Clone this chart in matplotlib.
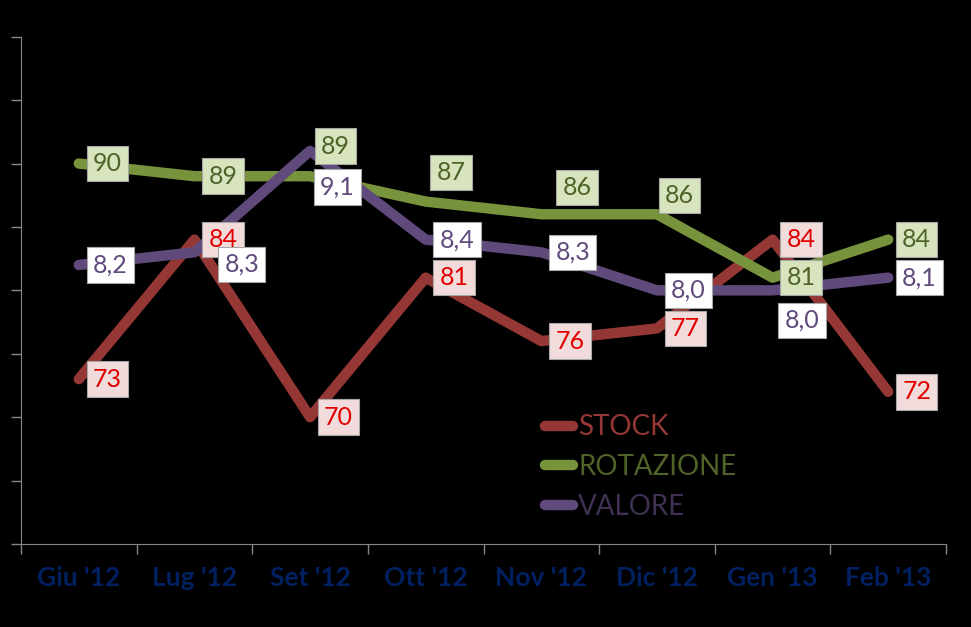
import matplotlib
matplotlib.use("Agg")
import matplotlib.pyplot as plt
from matplotlib.lines import Line2D

plt.rcParams['font.family'] = ['Lato', 'DejaVu Sans']

months = ["Giu '12", "Lug '12", "Set '12", "Ott '12", "Nov '12", "Dic '12", "Gen '13", "Feb '13"]
stock = [73, 84, 70, 81, 76, 77, 84, 72]
rotazione = [90, 89, 89, 87, 86, 86, 81, 84]
valore = [8.2, 8.3, 9.1, 8.4, 8.3, 8.0, 8.0, 8.1]

# colours (excel-ish)
c_stock, c_rot, c_val = "#953735", "#77933C", "#604A7B"
axis_col = "#868686"
tick_col = "#002060"

# extra shift of some labels, in pixels (x right, y down)
rot_shift = {2: (-3, -30), 3: (-3, -29), 4: (7, -27), 5: (-6, -19)}
val_shift = {1: (16, 12), 2: (-4, 36), 6: (-2, 30)}

fig = plt.figure(figsize=(9.71, 6.27), dpi=100, facecolor="black")
ax = fig.add_axes([21/971, 1-544/627, 925/971, (544-36.7)/627])
ax.set_facecolor("black")
ax2 = ax.twinx()

x = list(range(len(months)))
lw = 7.5
ax.plot(x, stock, color=c_stock, lw=lw, solid_capstyle="round", solid_joinstyle="round", zorder=2)
ax.plot(x, rotazione, color=c_rot, lw=lw, solid_capstyle="round", solid_joinstyle="round", zorder=3)
ax2.plot(x, valore, color=c_val, lw=lw, solid_capstyle="round", solid_joinstyle="round", zorder=2)

ax.set_xlim(-0.5, len(months) - 0.5)
ax.set_ylim(60, 100)
ax2.set_ylim(6, 10)
ax.set_yticks(range(60, 101, 5))
ax.set_yticklabels([])
ax.tick_params(axis="y", length=7, width=1, color=axis_col)
ax2.set_yticks([])
ax.set_xticks(x)
ax.set_xticklabels(months, fontsize=19, fontweight="bold", color=tick_col)
ax.set_xticks([i - 0.5 for i in range(len(months) + 1)], minor=True)
ax.tick_params(axis="x", which="major", length=0, pad=16)
ax.tick_params(axis="x", which="minor", length=7, width=1, color=axis_col)

for a in (ax, ax2):
    for s in ("top", "right", "left", "bottom"):
        a.spines[s].set_visible(False)
ax.spines["left"].set_visible(True)
ax.spines["bottom"].set_visible(True)
ax.spines["left"].set_color(axis_col)
ax.spines["bottom"].set_color(axis_col)


def label(trans, xi, yi, txt, fg, bg, shift=(0, 0)):
    dx = (14 + shift[0]) * 0.72
    dy = -shift[1] * 0.72
    ax2.annotate(txt, (xi, yi), xycoords=trans, xytext=(dx, dy), textcoords="offset points",
                 ha="left", va="center", fontsize=18, color=fg, zorder=5,
                 bbox=dict(boxstyle="square,pad=0.25", fc=bg, ec="#a6a6a6", lw=0.8))


for i in x:
    label(ax.transData, i, stock[i], str(stock[i]), "#E00000", "#F2DCDB")
    label(ax.transData, i, rotazione[i], str(rotazione[i]), "#4F6228", "#D7E4BD", rot_shift.get(i, (0, 0)))
    label(ax2.transData, i, valore[i], f"{valore[i]:.1f}".replace(".", ","), c_val, "white",
          val_shift.get(i, (0, 0)))

handles = [Line2D([], [], color=c, lw=lw, solid_capstyle="round") for c in (c_stock, c_rot, c_val)]
fig.legend(handles, ["STOCK", "ROTAZIONE", "VALORE"], loc="center left",
           bbox_to_anchor=(545/971, 1-467/627), frameon=False, fontsize=20,
           labelcolor=[c_stock, "#4F6228", "#403152"], handlelength=1.0, handletextpad=0.2,
           labelspacing=0.49, borderpad=0, borderaxespad=0)

fig.savefig("out.png", dpi=100, facecolor="black")
